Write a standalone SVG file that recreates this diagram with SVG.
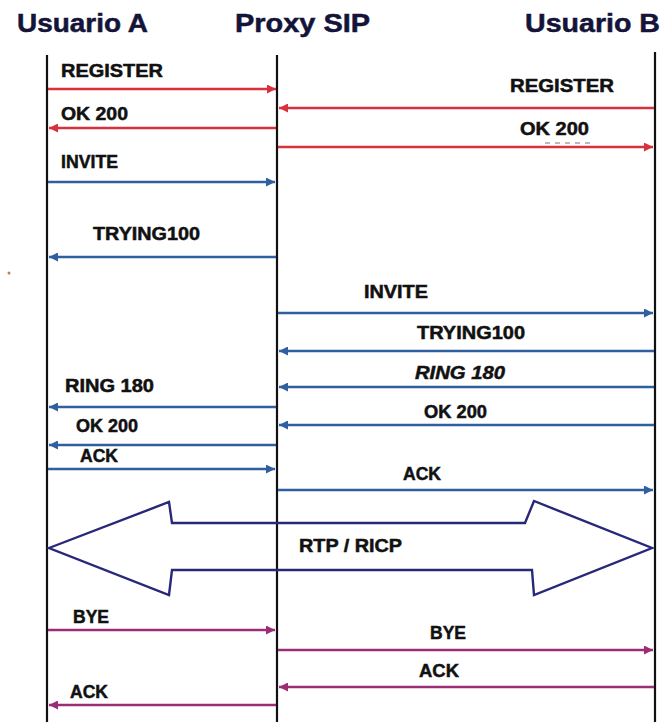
<svg xmlns="http://www.w3.org/2000/svg" width="664" height="722" viewBox="0 0 664 722">
<style>
.title{font-family:"Liberation Sans",Arial,sans-serif;font-weight:bold;font-size:26px;fill:#14143a;stroke:#14143a;stroke-width:0.5}
.lbl{font-family:"Liberation Sans",Arial,sans-serif;font-weight:bold;font-size:18px;fill:#111;stroke:#111;stroke-width:0.5}
.life{stroke:#111;stroke-width:2.2;fill:none}
.red{stroke:#d9303e;stroke-width:2.4;fill:none}
.blue{stroke:#2f5f9f;stroke-width:2.4;fill:none}
.pur{stroke:#9b2d77;stroke-width:2.6;fill:none}
</style>
<defs>
<marker id="hr" viewBox="0 0 10 10" refX="10" refY="5" markerWidth="10" markerHeight="9" markerUnits="userSpaceOnUse" orient="auto"><path d="M0,0 L10,5 L0,10 Z" fill="#d9303e"/></marker>
<marker id="hb" viewBox="0 0 10 10" refX="10" refY="5" markerWidth="10" markerHeight="9" markerUnits="userSpaceOnUse" orient="auto"><path d="M0,0 L10,5 L0,10 Z" fill="#2f5f9f"/></marker>
<marker id="hp" viewBox="0 0 10 10" refX="10" refY="5" markerWidth="10" markerHeight="9" markerUnits="userSpaceOnUse" orient="auto"><path d="M0,0 L10,5 L0,10 Z" fill="#9b2d77"/></marker>
</defs>
<rect width="664" height="722" fill="#fff"/>
<g id="usuarioA">
<text class="title" x="17" y="32" textLength="131" lengthAdjust="spacingAndGlyphs">Usuario A</text>
<line class="life" x1="47" y1="55" x2="47" y2="722"/>
</g>
<g id="proxySIP">
<text class="title" x="235" y="32" textLength="135" lengthAdjust="spacingAndGlyphs">Proxy SIP</text>
<line class="life" x1="277" y1="55" x2="277" y2="722"/>
</g>
<g id="usuarioB">
<text class="title" x="525" y="32" textLength="135" lengthAdjust="spacingAndGlyphs">Usuario B</text>
<line class="life" x1="655" y1="52" x2="655" y2="722"/>
</g>
<g id="connectors">
<line class="red" x1="48" y1="89" x2="276" y2="89" marker-end="url(#hr)"/>
<line class="red" x1="654" y1="108" x2="279" y2="108" marker-end="url(#hr)"/>
<line class="red" x1="276" y1="128" x2="49" y2="128" marker-end="url(#hr)"/>
<line class="red" x1="278" y1="147" x2="653" y2="147" marker-end="url(#hr)"/>
<line x1="545" y1="143" x2="590" y2="143" stroke="#777" stroke-width="1" stroke-dasharray="5,5"/>
<line class="blue" x1="48" y1="182" x2="275" y2="182" marker-end="url(#hb)"/>
<line class="blue" x1="276" y1="257" x2="49" y2="257" marker-end="url(#hb)"/>
<line class="blue" x1="278" y1="313" x2="653" y2="313" marker-end="url(#hb)"/>
<line class="blue" x1="654" y1="351" x2="279" y2="351" marker-end="url(#hb)"/>
<line class="blue" x1="654" y1="387" x2="279" y2="387" marker-end="url(#hb)"/>
<line class="blue" x1="276" y1="407" x2="49" y2="407" marker-end="url(#hb)"/>
<line class="blue" x1="654" y1="425" x2="279" y2="425" marker-end="url(#hb)"/>
<line class="blue" x1="276" y1="445" x2="49" y2="445" marker-end="url(#hb)"/>
<line class="blue" x1="48" y1="469" x2="275" y2="469" marker-end="url(#hb)"/>
<line class="blue" x1="278" y1="490" x2="653" y2="490" marker-end="url(#hb)"/>
<path d="M49,548 L169,502 L172,523 L525,523 L534,501 L652,548 L534,595 L532,570 L172,570 L169,595 Z" fill="none" stroke="#28287a" stroke-width="2.4" stroke-linejoin="miter"/>
<line class="pur" x1="48" y1="630" x2="275" y2="630" marker-end="url(#hp)"/>
<line class="pur" x1="278" y1="650" x2="653" y2="650" marker-end="url(#hp)"/>
<line class="pur" x1="654" y1="687" x2="279" y2="687" marker-end="url(#hp)"/>
<line class="pur" x1="276" y1="705" x2="49" y2="705" marker-end="url(#hp)"/>
</g>
<g id="labels">
<text class="lbl" x="61" y="77" textLength="102" lengthAdjust="spacingAndGlyphs">REGISTER</text>
<text class="lbl" x="61" y="120" textLength="67" lengthAdjust="spacingAndGlyphs">OK 200</text>
<text class="lbl" x="510" y="92" textLength="104" lengthAdjust="spacingAndGlyphs">REGISTER</text>
<text class="lbl" x="520" y="135" textLength="69" lengthAdjust="spacingAndGlyphs">OK 200</text>
<text class="lbl" x="61" y="168" textLength="57" lengthAdjust="spacingAndGlyphs">INVITE</text>
<text class="lbl" x="93" y="240" textLength="107" lengthAdjust="spacingAndGlyphs">TRYING100</text>
<text class="lbl" x="364" y="298" textLength="64" lengthAdjust="spacingAndGlyphs">INVITE</text>
<text class="lbl" x="417" y="339" textLength="108" lengthAdjust="spacingAndGlyphs">TRYING100</text>
<text class="lbl" x="415" y="379" textLength="90" lengthAdjust="spacingAndGlyphs" font-style="italic">RING 180</text>
<text class="lbl" x="65" y="392" textLength="89" lengthAdjust="spacingAndGlyphs">RING 180</text>
<text class="lbl" x="424" y="418" textLength="63" lengthAdjust="spacingAndGlyphs">OK 200</text>
<text class="lbl" x="76" y="432" textLength="62" lengthAdjust="spacingAndGlyphs">OK 200</text>
<text class="lbl" x="80" y="462" textLength="38" lengthAdjust="spacingAndGlyphs">ACK</text>
<text class="lbl" x="403" y="480" textLength="38" lengthAdjust="spacingAndGlyphs">ACK</text>
<text class="lbl" x="299" y="552" textLength="103" lengthAdjust="spacingAndGlyphs">RTP / RICP</text>
<text class="lbl" x="73" y="623" textLength="36" lengthAdjust="spacingAndGlyphs">BYE</text>
<text class="lbl" x="430" y="639" textLength="36" lengthAdjust="spacingAndGlyphs">BYE</text>
<text class="lbl" x="419" y="677" textLength="40" lengthAdjust="spacingAndGlyphs">ACK</text>
<text class="lbl" x="70" y="698" textLength="38" lengthAdjust="spacingAndGlyphs">ACK</text>
</g>
<circle cx="9" cy="273" r="1.5" fill="#c08040"/>
</svg>
